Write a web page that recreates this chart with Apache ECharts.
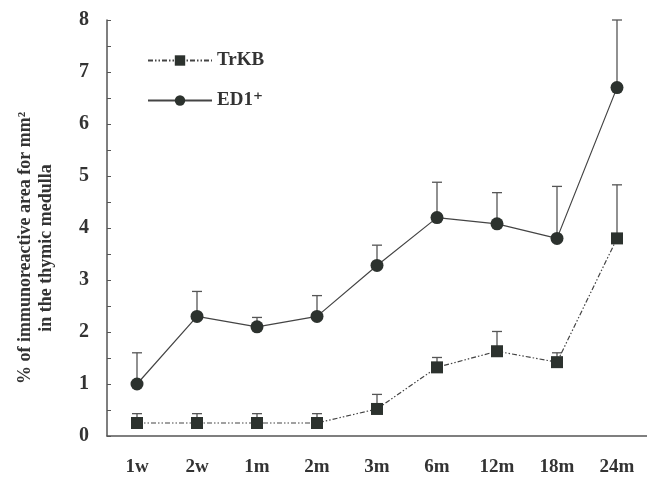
<!DOCTYPE html>
<html>
<head>
<meta charset="utf-8">
<script src="https://cdn.jsdelivr.net/npm/echarts@6/dist/echarts.min.js"></script>
<style>
  html, body { margin: 0; padding: 0; background: #fff; }
  #main { width: 647px; height: 477px; }
</style>
</head>
<body>
<div id="main"></div>
<script>
// time points
var categories = ['1w', '2w', '1m', '2m', '3m', '6m', '12m', '18m', '24m'];
// mean values
var trkbMean = [0.25, 0.25, 0.25, 0.25, 0.52, 1.32, 1.63, 1.42, 3.8];
var ed1Mean = [1.0, 2.3, 2.1, 2.3, 3.28, 4.2, 4.08, 3.8, 6.7];
// top of the error bars
var trkbUpper = [0.43, 0.43, 0.43, 0.43, 0.8, 1.51, 2.01, 1.6, 4.83];
var ed1Upper = [1.6, 2.78, 2.28, 2.7, 3.67, 4.88, 4.68, 4.8, 8.0];
var yTicks = [0, 1, 2, 3, 4, 5, 6, 7, 8];

var chart = echarts.init(document.getElementById('main'));
var serif = '"Liberation Serif", "DejaVu Serif", serif';
var ink = '#2c322e';
var axisCol = '#555';

function errData(mean, upper) {
    return mean.map(function (v, i) { return [i, v, upper[i]]; });
}
// upward error bar with a cap
function renderErr(params, api) {
    var lo = api.coord([api.value(0), api.value(1)]);
    var hi = api.coord([api.value(0), api.value(2)]);
    var hw = 5;
    var st = { stroke: '#555', lineWidth: 1.3 };
    return {
        type: 'group',
        children: [
            { type: 'line', shape: { x1: lo[0], y1: lo[1], x2: hi[0], y2: hi[1] }, style: st },
            { type: 'line', shape: { x1: hi[0] - hw, y1: hi[1], x2: hi[0] + hw, y2: hi[1] }, style: st }
        ]
    };
}

var option = {
    backgroundColor: '#fff',
    animation: false,
    grid: { left: 107, top: 20, width: 545, height: 418 },
    legend: {
        orient: 'vertical',
        left: 142,
        top: 46,
        itemWidth: 64,
        itemHeight: 13,
        itemGap: 21,
        data: ['TrKB', 'ED1⁺'],
        textStyle: { fontFamily: serif, fontWeight: 'bold', fontSize: 19, color: '#333' }
    },
    xAxis: [
        {
            // main axis: labels + ticks on the category boundaries
            type: 'category',
            data: categories,
            boundaryGap: true,
            axisLine: { onZero: false, lineStyle: { color: axisCol, width: 1.5 } },
            axisTick: { inside: true, length: 4, alignWithLabel: false, lineStyle: { color: axisCol } },
            axisLabel: {
                margin: 22, interval: 0,
                fontFamily: serif, fontWeight: 'bold', fontSize: 19, color: '#333'
            }
        },
        {
            // overlay: ticks under each category
            type: 'category',
            data: categories,
            boundaryGap: true,
            position: 'bottom',
            axisLine: { show: false, onZero: false },
            axisTick: { inside: true, length: 4, alignWithLabel: true, interval: 0, lineStyle: { color: axisCol } },
            axisLabel: { show: false }
        }
    ],
    yAxis: {
        type: 'value',
        min: 0,
        max: 8,
        interval: 0.5,
        splitLine: { show: false },
        axisLine: { show: true, onZero: false, lineStyle: { color: axisCol, width: 1.5 } },
        axisTick: { show: true, inside: true, length: 4, lineStyle: { color: axisCol } },
        axisLabel: {
            margin: 18,
            fontFamily: serif, fontWeight: 'bold', fontSize: 20, color: '#333',
            formatter: function (v) {
                return yTicks.indexOf(v) >= 0 ? String(v) : '';
            }
        }
    },
    graphic: [{
        type: 'text',
        x: 36,
        y: 248,
        rotation: Math.PI / 2,
        style: {
            text: '% of immunoreactive area for mm²\nin the thymic medulla',
            font: 'bold 18px ' + serif,
            fill: '#333',
            align: 'center',
            verticalAlign: 'middle',
            lineHeight: 21
        }
    }],
    series: [
        {
            type: 'custom',
            name: 'errTrKB',
            renderItem: renderErr,
            data: errData(trkbMean, trkbUpper),
            z: 1,
            silent: true
        },
        {
            type: 'custom',
            name: 'errED1',
            renderItem: renderErr,
            data: errData(ed1Mean, ed1Upper),
            z: 1,
            silent: true
        },
        {
            name: 'TrKB',
            type: 'line',
            data: trkbMean,
            symbol: 'rect',
            symbolSize: 12,
            itemStyle: { color: ink },
            lineStyle: { color: '#444', width: 1.2, type: [5, 2, 1.5, 2, 1.5, 2] },
            z: 3
        },
        {
            name: 'ED1⁺',
            type: 'line',
            data: ed1Mean,
            symbol: 'circle',
            symbolSize: 13,
            itemStyle: { color: ink },
            lineStyle: { color: '#444', width: 1.2 },
            z: 3
        }
    ]
};
chart.setOption(option);
</script>
</body>
</html>
